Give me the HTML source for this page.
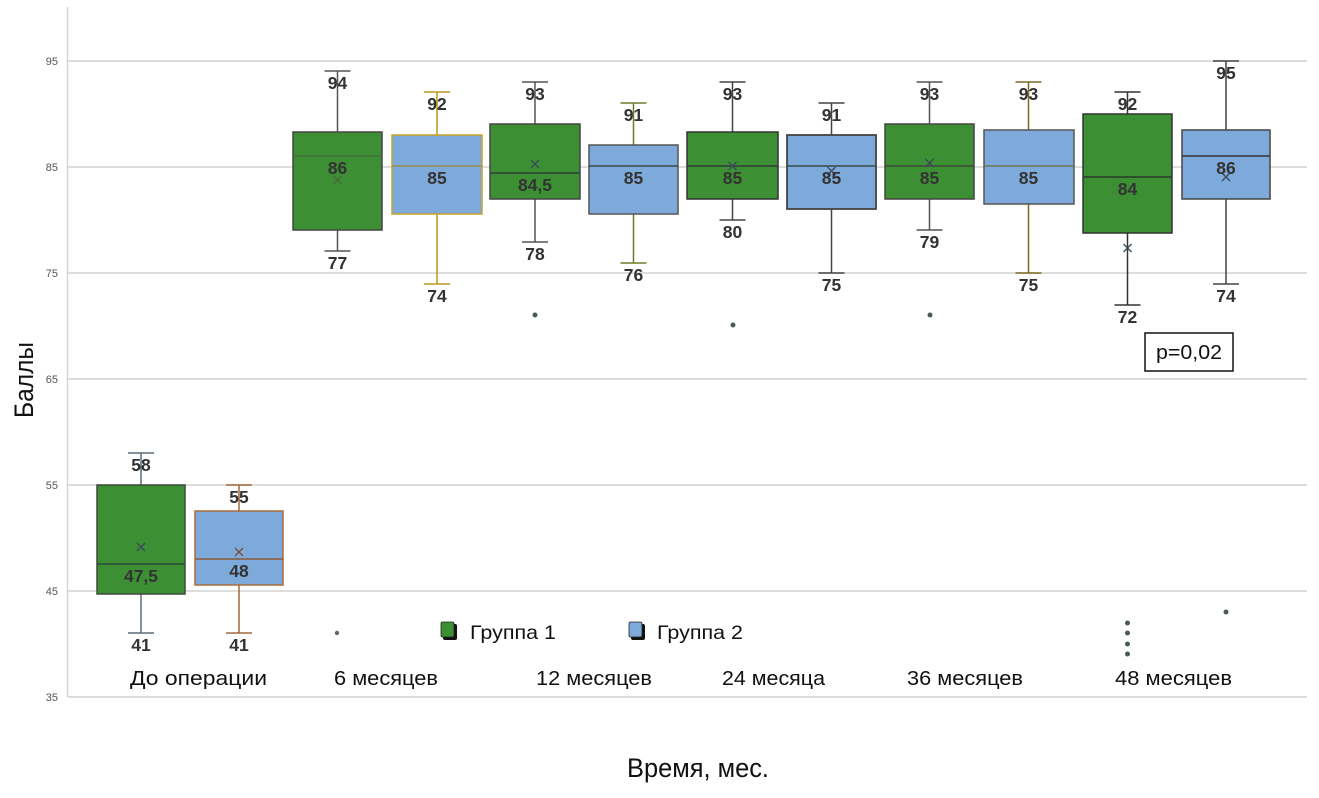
<!DOCTYPE html>
<html><head><meta charset="utf-8"><style>
html,body{margin:0;padding:0;background:#fff;}
svg{display:block;}
text{font-family:"Liberation Sans",sans-serif;}
</style></head><body>
<svg width="1319" height="798" viewBox="0 0 1319 798" xmlns="http://www.w3.org/2000/svg">
<rect width="1319" height="798" fill="#fff"/>
<!-- gridlines -->
<g stroke="#d2d2d2" stroke-width="1.4">
<line x1="68" y1="61" x2="1307" y2="61"/>
<line x1="68" y1="167" x2="1307" y2="167"/>
<line x1="68" y1="273" x2="1307" y2="273"/>
<line x1="68" y1="379" x2="1307" y2="379"/>
<line x1="68" y1="485" x2="1307" y2="485"/>
<line x1="68" y1="591" x2="1307" y2="591"/>
<line x1="68" y1="697" x2="1307" y2="697"/>
<line x1="67.5" y1="7" x2="67.5" y2="697"/>
</g>
<g font-size="11" fill="#555" text-anchor="end">
<text x="58" y="65">95</text>
<text x="58" y="171">85</text>
<text x="58" y="277">75</text>
<text x="58" y="383">65</text>
<text x="58" y="489">55</text>
<text x="58" y="595">45</text>
<text x="58" y="701">35</text>
</g>
<text transform="translate(33,380) rotate(-90)" font-size="27" fill="#111" text-anchor="middle" textLength="76" lengthAdjust="spacingAndGlyphs">Баллы</text>
<text x="698" y="777" font-size="27" fill="#111" text-anchor="middle" textLength="142" lengthAdjust="spacingAndGlyphs">Время, мес.</text>

<!-- boxes -->
<g id="boxes">
<!-- helper: whisker, box, median -->
<!-- 1 До g1 -->
<g stroke="#5b6b78" stroke-width="1.5"><line x1="141" y1="453" x2="141" y2="633"/><line x1="128" y1="453" x2="154" y2="453"/><line x1="128" y1="633" x2="154" y2="633"/></g>
<rect x="97" y="485" width="88" height="109" fill="#3d8f34" stroke="#3f4a3f" stroke-width="1.5"/>
<line x1="97" y1="564" x2="185" y2="564" stroke="#2f4a3a" stroke-width="1.5"/>
<!-- 2 До g2 -->
<g stroke="#a0683a" stroke-width="1.5"><line x1="239" y1="485" x2="239" y2="633"/><line x1="226" y1="485" x2="252" y2="485"/><line x1="226" y1="633" x2="252" y2="633"/></g>
<rect x="195" y="511" width="88" height="74" fill="#7eaadb" stroke="#a86c3c" stroke-width="1.5"/>
<line x1="195" y1="559" x2="283" y2="559" stroke="#8a5a34" stroke-width="1.5"/>
<!-- 3 6m g1 -->
<g stroke="#555" stroke-width="1.5"><line x1="337.5" y1="71" x2="337.5" y2="251"/><line x1="324.5" y1="71" x2="350.5" y2="71"/><line x1="324.5" y1="251" x2="350.5" y2="251"/></g>
<rect x="293" y="132" width="89" height="98" fill="#3d8f34" stroke="#444" stroke-width="1.5"/>
<line x1="293" y1="156" x2="382" y2="156" stroke="#4a6a3a" stroke-width="1.2"/>
<!-- 4 6m g2 -->
<g stroke="#b8981c" stroke-width="1.5"><line x1="437" y1="92" x2="437" y2="284"/><line x1="424" y1="92" x2="450" y2="92"/><line x1="424" y1="284" x2="450" y2="284"/></g>
<rect x="392" y="135" width="90" height="79" fill="#7eaadb" stroke="#c9a227" stroke-width="1.5"/>
<line x1="392" y1="166" x2="482" y2="166" stroke="#9a8a30" stroke-width="1.3"/>
<!-- 5 12m g1 -->
<g stroke="#555" stroke-width="1.5"><line x1="535" y1="82" x2="535" y2="242"/><line x1="522" y1="82" x2="548" y2="82"/><line x1="522" y1="242" x2="548" y2="242"/></g>
<rect x="490" y="124" width="90" height="75" fill="#3d8f34" stroke="#444" stroke-width="1.5"/>
<line x1="490" y1="173" x2="580" y2="173" stroke="#2f3f3a" stroke-width="1.5"/>
<!-- 6 12m g2 -->
<g stroke="#6b7a2a" stroke-width="1.5"><line x1="633.5" y1="103" x2="633.5" y2="263"/><line x1="620.5" y1="103" x2="646.5" y2="103"/><line x1="620.5" y1="263" x2="646.5" y2="263"/></g>
<rect x="589" y="145" width="89" height="69" fill="#7eaadb" stroke="#555" stroke-width="1.5"/>
<line x1="589" y1="166" x2="678" y2="166" stroke="#3a4a4a" stroke-width="1.5"/>
<!-- 7 24m g1 -->
<g stroke="#444" stroke-width="1.5"><line x1="732.5" y1="82" x2="732.5" y2="220"/><line x1="719.5" y1="82" x2="745.5" y2="82"/><line x1="719.5" y1="220" x2="745.5" y2="220"/></g>
<rect x="687" y="132" width="91" height="67" fill="#3d8f34" stroke="#333" stroke-width="1.5"/>
<line x1="687" y1="166" x2="778" y2="166" stroke="#2f3f3a" stroke-width="1.5"/>
<!-- 8 24m g2 -->
<g stroke="#444" stroke-width="1.5"><line x1="831.5" y1="103" x2="831.5" y2="273"/><line x1="818.5" y1="103" x2="844.5" y2="103"/><line x1="818.5" y1="273" x2="844.5" y2="273"/></g>
<rect x="787" y="135" width="89" height="74" fill="#7eaadb" stroke="#444" stroke-width="1.8"/>
<line x1="787" y1="166" x2="876" y2="166" stroke="#3a4a4a" stroke-width="1.5"/>
<!-- 9 36m g1 -->
<g stroke="#555" stroke-width="1.5"><line x1="929.5" y1="82" x2="929.5" y2="230"/><line x1="916.5" y1="82" x2="942.5" y2="82"/><line x1="916.5" y1="230" x2="942.5" y2="230"/></g>
<rect x="885" y="124" width="89" height="75" fill="#3d8f34" stroke="#444" stroke-width="1.5"/>
<line x1="885" y1="166" x2="974" y2="166" stroke="#3f4a3a" stroke-width="1.5"/>
<!-- 10 36m g2 -->
<g stroke="#7a6a20" stroke-width="1.5"><line x1="1028.5" y1="82" x2="1028.5" y2="273"/><line x1="1015.5" y1="82" x2="1041.5" y2="82"/><line x1="1015.5" y1="273" x2="1041.5" y2="273"/></g>
<rect x="984" y="130" width="90" height="74" fill="#7eaadb" stroke="#555" stroke-width="1.5"/>
<line x1="984" y1="166" x2="1074" y2="166" stroke="#6a6a3a" stroke-width="1.3"/>
<!-- 11 48m g1 -->
<g stroke="#333" stroke-width="1.5"><line x1="1127.5" y1="92" x2="1127.5" y2="305"/><line x1="1114.5" y1="92" x2="1140.5" y2="92"/><line x1="1114.5" y1="305" x2="1140.5" y2="305"/></g>
<rect x="1083" y="114" width="89" height="119" fill="#3d8f34" stroke="#333" stroke-width="1.5"/>
<line x1="1083" y1="177" x2="1172" y2="177" stroke="#2a3a2a" stroke-width="1.5"/>
<!-- 12 48m g2 -->
<g stroke="#444" stroke-width="1.5"><line x1="1226" y1="61" x2="1226" y2="284"/><line x1="1213" y1="61" x2="1239" y2="61"/><line x1="1213" y1="284" x2="1239" y2="284"/></g>
<rect x="1182" y="130" width="88" height="69" fill="#7eaadb" stroke="#444" stroke-width="1.5"/>
<line x1="1182" y1="156" x2="1270" y2="156" stroke="#333" stroke-width="1.5"/>
</g>

<!-- means -->
<g stroke="#3a4a5a" stroke-width="1.3" fill="none">
<path d="M137 543 L145 551 M145 543 L137 551"/>
<path d="M235 548 L243 556 M243 548 L235 556" stroke="#7a4a3a"/>
<path d="M333.5 176 L341.5 184 M341.5 176 L333.5 184" stroke="#4a6a3a"/>
<path d="M531 160 L539 168 M539 160 L531 168"/>
<path d="M728.5 162 L736.5 170 M736.5 162 L728.5 170"/>
<path d="M827.5 167 L835.5 175 M835.5 167 L827.5 175"/>
<path d="M925.5 159 L933.5 167 M933.5 159 L925.5 167"/>
<path d="M1123.5 244 L1131.5 252 M1131.5 244 L1123.5 252"/>
<path d="M1222 173 L1230 181 M1230 173 L1222 181"/>
</g>

<!-- outliers -->
<g fill="#4a5a58">
<circle cx="337" cy="633" r="2.2" fill="#666"/>
<circle cx="535" cy="315" r="2.5"/>
<circle cx="733" cy="325" r="2.5"/>
<circle cx="930" cy="315" r="2.5"/>
<circle cx="1127.5" cy="623" r="2.5"/>
<circle cx="1127.5" cy="633" r="2.5"/>
<circle cx="1127.5" cy="644" r="2.5"/>
<circle cx="1127.5" cy="654" r="2.5"/>
<circle cx="1226" cy="612" r="2.5"/>
</g>

<!-- value labels -->
<g font-size="17.5" font-weight="bold" fill="#333" text-anchor="middle">
<text x="141" y="471">58</text><text x="141" y="582">47,5</text><text x="141" y="651">41</text>
<text x="239" y="503">55</text><text x="239" y="577">48</text><text x="239" y="651">41</text>
<text x="337.5" y="89">94</text><text x="337.5" y="174">86</text><text x="337.5" y="269">77</text>
<text x="437" y="110">92</text><text x="437" y="184">85</text><text x="437" y="302">74</text>
<text x="535" y="100">93</text><text x="535" y="191">84,5</text><text x="535" y="260">78</text>
<text x="633.5" y="121">91</text><text x="633.5" y="184">85</text><text x="633.5" y="281">76</text>
<text x="732.5" y="100">93</text><text x="732.5" y="184">85</text><text x="732.5" y="238">80</text>
<text x="831.5" y="121">91</text><text x="831.5" y="184">85</text><text x="831.5" y="291">75</text>
<text x="929.5" y="100">93</text><text x="929.5" y="184">85</text><text x="929.5" y="248">79</text>
<text x="1028.5" y="100">93</text><text x="1028.5" y="184">85</text><text x="1028.5" y="291">75</text>
<text x="1127.5" y="110">92</text><text x="1127.5" y="195">84</text><text x="1127.5" y="323">72</text>
<text x="1226" y="79">95</text><text x="1226" y="174">86</text><text x="1226" y="302">74</text>
</g>

<!-- p box -->
<rect x="1145" y="333" width="88" height="38" fill="#fff" stroke="#111" stroke-width="1.5"/>
<text x="1189" y="359" font-size="20" fill="#111" text-anchor="middle" textLength="66" lengthAdjust="spacingAndGlyphs">p=0,02</text>

<!-- legend -->
<rect x="443" y="624" width="14" height="16" rx="2" fill="#111"/>
<rect x="441" y="622" width="13" height="15" rx="1.5" fill="#3d8f34" stroke="#222" stroke-width="0.8"/>
<text x="470" y="639" font-size="19.5" fill="#111" textLength="86" lengthAdjust="spacingAndGlyphs">Группа 1</text>
<rect x="631" y="624" width="14" height="16" rx="2" fill="#111"/>
<rect x="629" y="622" width="13" height="15" rx="1.5" fill="#7eaadb" stroke="#222" stroke-width="0.8"/>
<text x="657" y="639" font-size="19.5" fill="#111" textLength="86" lengthAdjust="spacingAndGlyphs">Группа 2</text>

<!-- x labels -->
<g font-size="20.5" fill="#111">
<text x="130" y="685" textLength="137" lengthAdjust="spacingAndGlyphs">До операции</text>
<text x="334" y="685" textLength="104" lengthAdjust="spacingAndGlyphs">6 месяцев</text>
<text x="536" y="685" textLength="116" lengthAdjust="spacingAndGlyphs">12 месяцев</text>
<text x="722" y="685" textLength="103" lengthAdjust="spacingAndGlyphs">24 месяца</text>
<text x="907" y="685" textLength="116" lengthAdjust="spacingAndGlyphs">36 месяцев</text>
<text x="1115" y="685" textLength="117" lengthAdjust="spacingAndGlyphs">48 месяцев</text>
</g>
</svg>
</body></html>
